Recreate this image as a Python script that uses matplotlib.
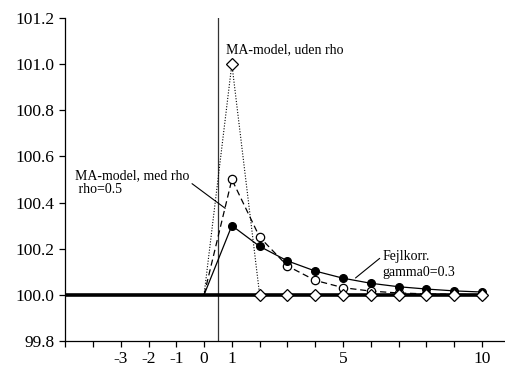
import matplotlib
matplotlib.use("Agg")
import matplotlib.pyplot as plt

# periods after the shock
periods = [0, 1, 2, 3, 4, 5, 6, 7, 8, 9, 10]

# MA-model without rho: one-period spike
ma_uden_rho = [100.0, 101.0, 100.0, 100.0, 100.0, 100.0, 100.0, 100.0, 100.0, 100.0, 100.0]
# MA-model with rho=0.5
ma_med_rho = [100.0, 100.5, 100.25, 100.125, 100.0625, 100.031, 100.016, 100.008, 100.004, 100.002, 100.001]
# error correction, gamma0=0.3
fejlkorr = [100.0, 100.3, 100.21, 100.147, 100.103, 100.072, 100.05, 100.035, 100.025, 100.017, 100.012]

baseline = 100.0
shock_time = 0.5

x_ticks = list(range(-5, 11))
x_labels = {-3: "-3", -2: "-2", -1: "-1", 0: "0", 1: "1", 5: "5", 10: "10"}
y_ticks = [99.8, 100.0, 100.2, 100.4, 100.6, 100.8, 101.0, 101.2]

plt.rcParams["font.family"] = ["Liberation Serif", "DejaVu Serif"]

fig = plt.figure(figsize=(5.05, 3.67), dpi=100)
ax = fig.add_axes([0.129, 0.071, 0.871, 0.88])

# baseline level
ax.plot([-5, 10], [baseline, baseline], color="black", lw=2.6, zorder=2)
# shock marker
ax.axvline(shock_time, color="#333333", lw=0.9, zorder=1)

ax.plot(periods, ma_uden_rho, color="black", lw=0.8, ls=(0, (1, 1.5)), zorder=3)
ax.plot(periods[1:], ma_uden_rho[1:], ls="none", marker="D", ms=6.5,
        mfc="white", mec="black", mew=0.9, zorder=6)

ax.plot(periods, ma_med_rho, color="black", lw=0.9, ls=(0, (5, 3)), zorder=3)
ax.plot(periods[1:], ma_med_rho[1:], ls="none", marker="o", ms=6,
        mfc="white", mec="black", mew=0.9, zorder=5)

ax.plot(periods, fejlkorr, color="black", lw=0.9, zorder=4)
ax.plot(periods[1:], fejlkorr[1:], ls="none", marker="o", ms=5.5,
        mfc="black", mec="black", zorder=5)

ax.set_xlim(-5, 10.83)
ax.set_ylim(99.8, 101.2)
ax.set_xticks(x_ticks)
ax.set_xticklabels([x_labels.get(t, "") for t in x_ticks])
ax.set_yticks(y_ticks)
ax.set_yticklabels([f"{v:.1f}" for v in y_ticks])
ax.tick_params(direction="out", length=4.5, width=0.9, labelsize=12.5, pad=3)
for side in ("top", "right"):
    ax.spines[side].set_visible(False)
for side in ("left", "bottom"):
    ax.spines[side].set_linewidth(0.9)

ax.text(0.8, 101.035, "MA-model, uden rho", fontsize=10, ha="left", va="bottom")
ax.annotate("MA-model, med rho\n rho=0.5", xy=(0.76, 100.375), xytext=(-4.65, 100.485),
            fontsize=10, ha="left", va="center", linespacing=1.05,
            arrowprops=dict(arrowstyle="-", color="black", lw=0.8,
                            shrinkA=0, shrinkB=0, relpos=(1.0, 0.55)))
ax.annotate("Fejlkorr.\ngamma0=0.3", xy=(5.45, 100.073), xytext=(6.42, 100.13),
            fontsize=10, ha="left", va="center", linespacing=1.3,
            arrowprops=dict(arrowstyle="-", color="black", lw=0.8,
                            shrinkA=0, shrinkB=0, relpos=(0.0, 0.8)))

fig.savefig("out.png", dpi=100)
